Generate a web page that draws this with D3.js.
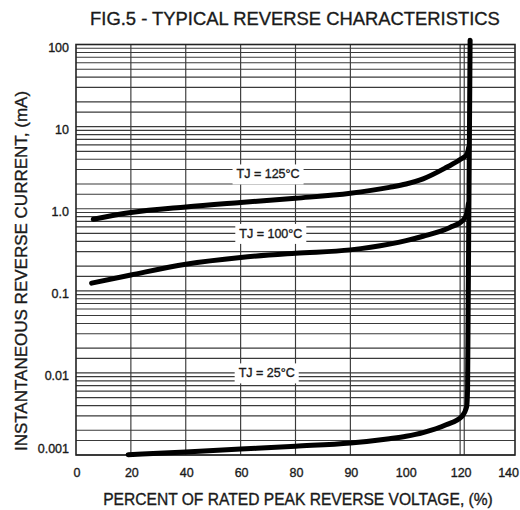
<!DOCTYPE html>
<html>
<head>
<meta charset="utf-8">
<script src="https://cdn.jsdelivr.net/npm/d3@7"></script>
<style>
  html, body { margin: 0; padding: 0; background: #fff; }
  svg { display: block; font-family: "Liberation Sans", Arial, sans-serif; }
  svg text { stroke: #1a1a1a; stroke-width: 0.35px; fill: #1a1a1a; }
</style>
</head>
<body>
<svg id="chart" width="520" height="510"></svg>
<script>
// ---- data ----
const titleText = "FIG.5 - TYPICAL REVERSE CHARACTERISTICS";
const xTitle = "PERCENT OF RATED PEAK REVERSE VOLTAGE, (%)";
const yTitle = "INSTANTANEOUS REVERSE CURRENT, (mA)";

const xTicks = [0, 20, 40, 60, 80, 90, 100, 120, 140];
const xGridValues = [20, 40, 60, 80, 90, 120, 121.5];
const yTicks = [100, 10, 1, 0.1, 0.01, 0.001];
const yTickLabels = ["100", "10", "1.0", "0.1", "0.01", "0.001"];
const minorMultipliers = [1.5, 2, 3, 4, 5, 6, 7, 8, 9];

// [percent, mA]
const tj125 = [[6.3,0.745],[20,0.897],[40,1.05],[60,1.19],[80,1.34],[90,1.54],[97.1,1.82],[100.3,2.0],[106.5,2.31],[114.9,3.17],[120.3,4.02],[122.5,4.59],[123.15,5.6]];
const tj100 = [[5.7,0.124],[20,0.156],[40,0.211],[60,0.255],[80,0.287],[90,0.315],[97.1,0.37],[100.3,0.408],[106.5,0.462],[116.3,0.592],[121.05,0.72],[122.5,0.889],[123.0,1.15]];
const tj25  = [[19,0.00101],[40,0.00109],[60,0.00118],[80,0.00128],[90,0.0014],[97.1,0.00158],[100.3,0.00169],[106.5,0.00187],[114.9,0.00233],[120.6,0.00294],[122.4,0.0039],[122.72,0.0065],[123.64,113]];

const labelTexts = ["TJ = 125°C", "TJ = 100°C", "TJ = 25°C"];
const labelX = [70, 71, 69.5];
const labelV = [2.65, 0.5, 0.01];

// ---- layout ----
const svg = d3.select("#chart");
const pLeft = 76, pRight = 515, pTop = 44.5, pBottom = 455;

const x = d3.scaleLinear()
  .domain(xTicks)
  .range(xTicks.map((d, i) => pLeft + i * (pRight - pLeft) / (xTicks.length - 1)));
const y = d3.scaleLog().domain([0.001, 100]).range([pBottom, pTop]);

// title
svg.append("text")
  .attr("x", 295).attr("y", 25)
  .attr("text-anchor", "middle")
  .attr("font-size", 18.4)
  .text(titleText);

// horizontal grid
const hLines = [];
for (let e = -3; e < 2; e++) {
  minorMultipliers.forEach(m => hLines.push(m * Math.pow(10, e)));
}
yTicks.forEach(v => hLines.push(v));

const grid = svg.append("g").attr("stroke", "#3a3a3a").attr("stroke-width", 1.15);
grid.selectAll("line.h").data(hLines).join("line")
  .attr("class", "h")
  .attr("x1", pLeft).attr("x2", pRight)
  .attr("y1", d => y(d)).attr("y2", d => y(d));

grid.selectAll("line.v").data(xGridValues).join("line")
  .attr("class", "v")
  .attr("y1", pTop).attr("y2", pBottom)
  .attr("x1", d => x(d)).attr("x2", d => x(d));

// frame
svg.append("rect")
  .attr("x", pLeft).attr("y", pTop)
  .attr("width", pRight - pLeft).attr("height", pBottom - pTop)
  .attr("fill", "none").attr("stroke", "#222").attr("stroke-width", 1.6);

// x tick labels
const lastX = xTicks[xTicks.length - 1];
svg.append("g").selectAll("text").data(xTicks).join("text")
  .attr("x", d => d === lastX ? 519 : x(d) + 1)
  .attr("y", 477)
  .attr("text-anchor", d => d === lastX ? "end" : "middle")
  .attr("font-size", 12.5)
  .text(d => d);

// y tick labels
svg.append("g").selectAll("text").data(yTicks).join("text")
  .attr("x", 69)
  .attr("y", d => Math.min(y(d) + 3, 449))
  .attr("dy", "0.35em")
  .attr("text-anchor", "end")
  .attr("font-size", 12.5)
  .text((d, i) => yTickLabels[i]);

// axis titles
svg.append("text")
  .attr("x", 298).attr("y", 505)
  .attr("text-anchor", "middle")
  .attr("font-size", 15.6)
  .text(xTitle);

svg.append("text")
  .attr("transform", "translate(27,271) rotate(-90)")
  .attr("text-anchor", "middle")
  .attr("font-size", 17)
  .text(yTitle);

// curve labels with white boxes
const lab = svg.append("g");
labelTexts.forEach((t, i) => {
  const g = lab.append("g");
  const txt = g.append("text")
    .attr("x", x(labelX[i])).attr("y", y(labelV[i]))
    .attr("dy", "0.36em")
    .attr("text-anchor", "middle")
    .attr("font-size", 12.5)
    .text(t);
  const bb = txt.node().getBBox();
  g.insert("rect", "text")
    .attr("x", bb.x - 4).attr("y", bb.y - 3)
    .attr("width", bb.width + 8).attr("height", bb.height + 6)
    .attr("fill", "#fff");
});

// curves
const line = d3.line()
  .x(d => x(d[0]))
  .y(d => y(d[1]))
  .curve(d3.curveMonotoneX);

svg.append("g").selectAll("path").data([tj125, tj100, tj25]).join("path")
  .attr("d", line)
  .attr("fill", "none")
  .attr("stroke", "#000")
  .attr("stroke-width", 5)
  .attr("stroke-linecap", "round")
  .attr("stroke-linejoin", "round");
</script>
</body>
</html>
